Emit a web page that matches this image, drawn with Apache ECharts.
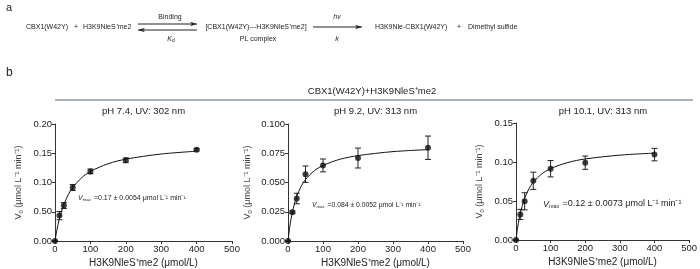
<!DOCTYPE html>
<html><head><meta charset="utf-8">
<script src="https://cdn.jsdelivr.net/npm/echarts@6/dist/echarts.min.js"></script>
<style>html,body{margin:0;padding:0;background:#fff}#c{width:700px;height:269px}</style>
</head><body><div id="c"></div>
<script>
// ---- data ----
const conc = [0, 12.5, 25, 50, 100, 200, 400];
const v1 = [0, 0.0434, 0.0606, 0.0914, 0.119, 0.138, 0.156];
const e1 = [0, 0.007, 0.005, 0.005, 0.004, 0.004, 0.002];
const v2 = [0, 0.0246, 0.0363, 0.0571, 0.0646, 0.0709, 0.0797];
const e2 = [0, 0.001, 0.0045, 0.007, 0.0055, 0.0085, 0.010];
const v3 = [0, 0.0328, 0.0496, 0.0759, 0.0914, 0.0991, 0.1095];
const e3 = [0, 0.0065, 0.011, 0.011, 0.0105, 0.0085, 0.008];
const fitX = [0, 5, 12.5, 25, 37.5, 50, 75, 100, 150, 200, 300, 400];
const fit1 = [0, 0.0177, 0.0383, 0.0625, 0.0792, 0.0914, 0.108, 0.1189, 0.1321, 0.1399, 0.1487, 0.1535];
const fit2 = [0, 0.012, 0.0247, 0.0382, 0.0467, 0.0525, 0.060, 0.0646, 0.070, 0.073, 0.0764, 0.0781];
const fit3 = [0, 0.0167, 0.0345, 0.0536, 0.0657, 0.0741, 0.0849, 0.0916, 0.0994, 0.1039, 0.1088, 0.1114];
const xTicks = ['0', '100', '200', '300', '400', '500'];
const yTicks1 = ['0.00', '0.50', '0.10', '0.15', '0.20'];
const yTicks2 = ['0.000', '0.025', '0.050', '0.075', '0.100'];
const yTicks3 = ['0.00', '0.05', '0.10', '0.15'];
const subtitles = ['pH 7.4, UV: 302 nm', 'pH 9.2, UV: 313 nm', 'pH 10.1, UV: 313 nm'];
const vmaxTexts = ['=0.17 ± 0.0054 μmol L⁻¹ min⁻¹', '=0.084 ± 0.0052 μmol L⁻¹ min⁻¹', '=0.12 ± 0.0073 μmol L⁻¹ min⁻¹'];
const mainTitle = 'CBX1(W42Y)+H3K9NleS⁺me2';
const xName = 'H3K9NleS⁺me2 (μmol/L)';

const FONT = 'Liberation Sans, Arial, sans-serif';
const TXT = '#222';
const AX = '#333';

const chart = echarts.init(document.getElementById('c'), null, {renderer: 'canvas'});

const grids = [
  {left: 55, top: 124, width: 177, height: 117},
  {left: 288, top: 124, width: 175, height: 117},
  {left: 516, top: 123, width: 174, height: 117}
];
const yCfg = [
  {max: 0.20, interval: 0.05, labels: yTicks1, nameGap: 31},
  {max: 0.100, interval: 0.025, labels: yTicks2, nameGap: 35},
  {max: 0.15, interval: 0.05, labels: yTicks3, nameGap: 31}
];
const vals = [v1, v2, v3], errs = [e1, e2, e3], fits = [fit1, fit2, fit3];

const xAxes = [], yAxes = [], series = [];
for (let i = 0; i < 3; i++) {
  xAxes.push({
    gridIndex: i, type: 'value', min: 0, max: 500, interval: 100,
    axisLine: {show: true, lineStyle: {color: AX, width: 1}},
    axisTick: {show: true, length: 3, lineStyle: {color: AX}},
    splitLine: {show: false},
    axisLabel: {fontSize: 9.5, color: TXT, fontFamily: FONT, margin: 3,
      formatter: (v) => xTicks[Math.round(v / 100)]},
    name: xName, nameLocation: 'middle', nameGap: 17,
    nameTextStyle: {fontSize: 10, color: TXT, fontFamily: FONT}
  });
  const yc = yCfg[i];
  yAxes.push({
    gridIndex: i, type: 'value', min: 0, max: yc.max, interval: yc.interval,
    axisLine: {show: true, lineStyle: {color: AX, width: 1}},
    axisTick: {show: true, length: 3, lineStyle: {color: AX}},
    splitLine: {show: false},
    axisLabel: {fontSize: 9.5, color: TXT, fontFamily: FONT, margin: 3,
      formatter: (v) => yc.labels[Math.round(v / yc.interval)]},
    name: '{i|V}{s|0} (μmol L⁻¹ min⁻¹)', nameLocation: 'middle', nameGap: yc.nameGap, nameRotate: 90,
    nameTextStyle: {fontSize: 9, color: '#444', fontFamily: FONT,
      rich: {i: {fontSize: 9, fontFamily: FONT, color: '#444'}, s: {fontSize: 6, fontFamily: FONT, color: '#444', padding: [5, 0, 0, 0]}}}
  });
  series.push({
    type: 'line', xAxisIndex: i, yAxisIndex: i, smooth: 0.3, symbol: 'none',
    lineStyle: {color: '#111', width: 1}, data: fitX.map((x, k) => [x, fits[i][k]]), z: 2
  });
  const v = vals[i], e = errs[i];
  series.push({
    type: 'custom', xAxisIndex: i, yAxisIndex: i, z: 3,
    data: conc.map((x, k) => [x, v[k] - e[k], v[k] + e[k]]),
    renderItem: (params, api) => {
      const lo = api.coord([api.value(0), api.value(1)]);
      const hi = api.coord([api.value(0), api.value(2)]);
      const w = 3;
      return {type: 'group', children: [
        {type: 'line', shape: {x1: lo[0], y1: lo[1], x2: hi[0], y2: hi[1]}, style: {stroke: '#222', lineWidth: 1}},
        {type: 'line', shape: {x1: lo[0] - w, y1: lo[1], x2: lo[0] + w, y2: lo[1]}, style: {stroke: '#222', lineWidth: 1}},
        {type: 'line', shape: {x1: hi[0] - w, y1: hi[1], x2: hi[0] + w, y2: hi[1]}, style: {stroke: '#222', lineWidth: 1}}
      ]};
    }
  });
  series.push({
    type: 'scatter', xAxisIndex: i, yAxisIndex: i, symbol: 'circle', symbolSize: 6, z: 4,
    itemStyle: {color: '#111'}, data: conc.map((x, k) => [x, v[k]])
  });
}

const A = 7; // panel a font size
function txt(x, y, text, opts) {
  return {type: 'text', x: x, y: y, style: Object.assign({
    text: text, font: A + 'px ' + FONT, fill: TXT, align: 'left', verticalAlign: 'middle'}, opts || {})};
}
function arrow(x1, x2, y, dir) {
  const head = 7, hw = 2.2;
  const tip = dir > 0 ? x2 : x1;
  const base = tip - dir * head;
  return [
    {type: 'line', shape: {x1: x1, y1: y, x2: x2, y2: y}, style: {stroke: '#222', lineWidth: 1}},
    {type: 'polygon', shape: {points: [[tip, y], [base, y - hw], [base + dir * 2, y], [base, y + hw]]}, style: {fill: '#222'}}
  ];
}

const graphics = [
  txt(6, 8, 'a', {font: '11px ' + FONT}),
  txt(26, 27, 'CBX1(W42Y)'),
  txt(76, 27, '+', {align: 'center'}),
  txt(83, 27, 'H3K9NleS⁺me2'),
  ...arrow(138, 197, 24, 1),
  ...arrow(138, 197, 30, -1),
  txt(170, 17, 'Binding', {align: 'center'}),
  {type: 'text', x: 171, y: 39, style: {text: '{i|K}{s|d}', align: 'center', verticalAlign: 'middle',
    rich: {i: {font: 'italic ' + A + 'px ' + FONT, fill: TXT}, s: {font: '5px ' + FONT, fill: TXT, padding: [4, 0, 0, 0]}}}},
  txt(256, 27, '[CBX1(W42Y)---H3K9NleS⁺me2]', {align: 'center'}),
  txt(258, 39, 'PL complex', {align: 'center'}),
  ...arrow(313, 362, 27, 1),
  txt(337, 17, 'hv', {align: 'center', font: 'italic ' + A + 'px ' + FONT}),
  txt(337, 39, 'k', {align: 'center', font: 'italic ' + A + 'px ' + FONT}),
  txt(375, 27, 'H3K9Nle-CBX1(W42Y)'),
  txt(459, 27, '+', {align: 'center'}),
  txt(468, 27, 'Dimethyl sulfide'),
  txt(6, 73, 'b', {font: '12px ' + FONT}),
  txt(372, 91, mainTitle, {align: 'center', font: '9.5px ' + FONT}),
  {type: 'line', shape: {x1: 55, y1: 100, x2: 693, y2: 100}, style: {stroke: '#50606e', lineWidth: 1}}
];
const vmaxPos = [[78, 198], [312, 205], [543, 204]];
const vmaxFont = [7, 6.8, 9];
for (let i = 0; i < 3; i++) {
  const g = grids[i];
  const f = vmaxFont[i];
  graphics.push(txt(g.left + g.width / 2, 111, subtitles[i], {align: 'center', font: '9.5px ' + FONT}));
  graphics.push({type: 'text', x: vmaxPos[i][0], y: vmaxPos[i][1], style: {
    text: '{i|V}{s|max} {n|' + vmaxTexts[i] + '}', align: 'left', verticalAlign: 'middle',
    rich: {i: {font: 'italic ' + f + 'px ' + FONT, fill: TXT}, s: {font: (f * 0.6) + 'px ' + FONT, fill: TXT, padding: [f * 0.5, 0, 0, 0]},
      n: {font: f + 'px ' + FONT, fill: TXT}}}});
}

chart.setOption({
  animation: false,
  grid: grids.map(g => Object.assign({containLabel: false}, g)),
  xAxis: xAxes, yAxis: yAxes, series: series, graphic: graphics
});
</script></body></html>
